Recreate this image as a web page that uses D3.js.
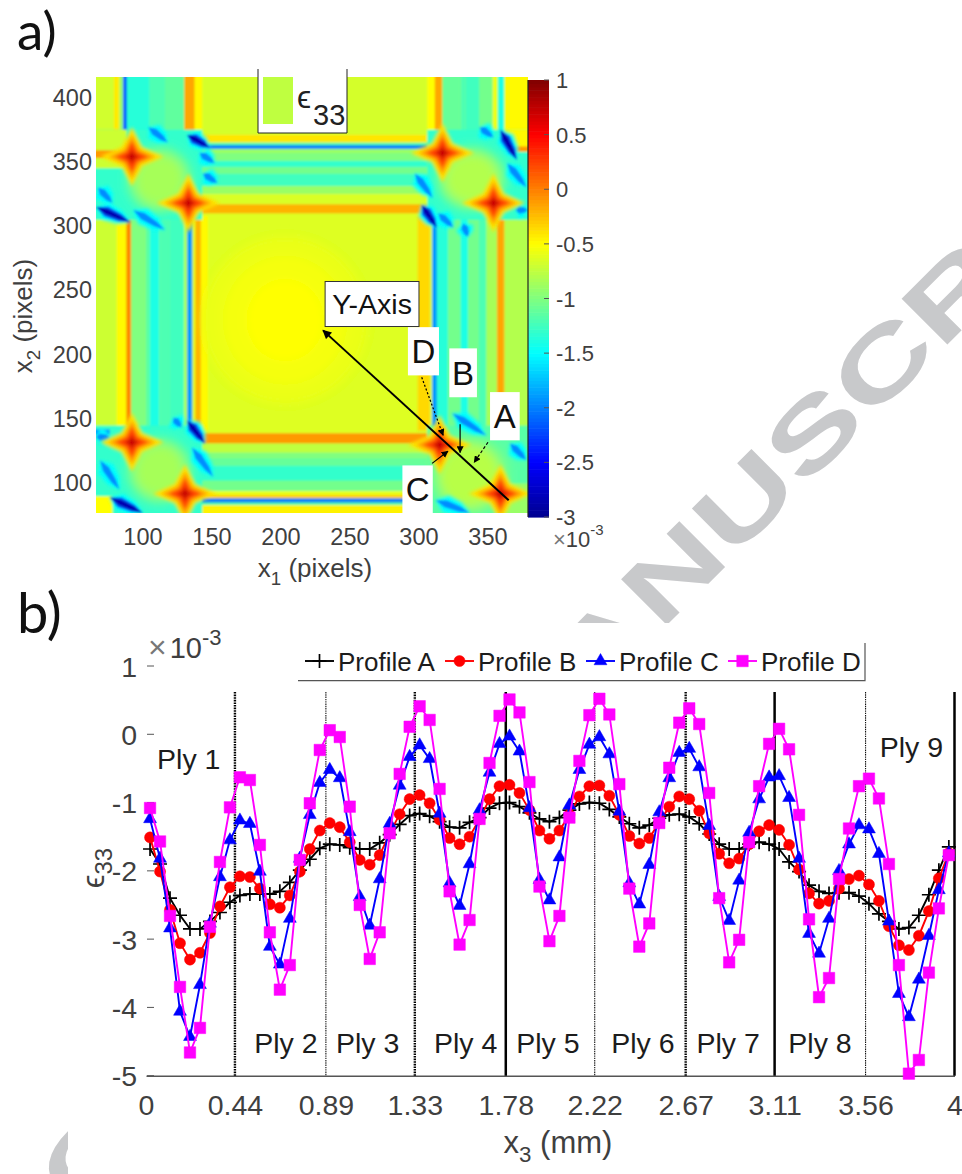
<!DOCTYPE html>
<html><head><meta charset="utf-8">
<script src="https://cdn.jsdelivr.net/npm/d3@7/dist/d3.min.js"></script>
<style>html,body{margin:0;padding:0;background:#fff}svg{display:block}text{font-family:"Liberation Sans",Arial,sans-serif}</style>
</head><body><svg id="c" width="962" height="1174"></svg>
<script>
// ---------- Panel b data (values x 1e-3) ----------
const profileA=[-1.68,-1.90,-2.40,-2.65,-2.85,-2.85,-2.74,-2.61,-2.46,-2.36,-2.34,-2.34,-2.34,-2.30,-2.17,-1.99,-1.83,-1.67,-1.61,-1.62,-1.66,-1.68,-1.68,-1.59,-1.47,-1.32,-1.19,-1.16,-1.20,-1.28,-1.36,-1.37,-1.29,-1.22,-1.08,-1.01,-1.00,-1.06,-1.15,-1.24,-1.28,-1.22,-1.11,-1.02,-1.00,-1.01,-1.10,-1.21,-1.31,-1.37,-1.33,-1.23,-1.18,-1.17,-1.21,-1.31,-1.46,-1.61,-1.68,-1.68,-1.61,-1.58,-1.61,-1.68,-1.87,-2.01,-2.21,-2.30,-2.33,-2.32,-2.32,-2.37,-2.48,-2.63,-2.74,-2.85,-2.83,-2.65,-2.35,-1.99,-1.65];
const profileB=[-1.51,-2.01,-2.57,-3.06,-3.30,-3.20,-2.91,-2.52,-2.24,-2.08,-2.09,-2.26,-2.49,-2.54,-2.36,-2.01,-1.68,-1.41,-1.30,-1.36,-1.58,-1.84,-1.91,-1.77,-1.45,-1.17,-0.95,-0.89,-1.01,-1.25,-1.52,-1.61,-1.50,-1.24,-0.95,-0.76,-0.74,-0.86,-1.11,-1.41,-1.53,-1.41,-1.18,-0.91,-0.76,-0.75,-0.90,-1.18,-1.49,-1.60,-1.52,-1.29,-1.06,-0.91,-0.95,-1.12,-1.45,-1.75,-1.89,-1.82,-1.61,-1.42,-1.33,-1.40,-1.62,-1.98,-2.33,-2.48,-2.44,-2.26,-2.12,-2.07,-2.20,-2.44,-2.81,-3.09,-3.16,-2.95,-2.59,-2.11,-1.74];
const profileC=[-1.24,-1.82,-2.84,-4.06,-4.43,-3.67,-2.77,-2.09,-1.55,-1.26,-1.31,-2.01,-3.11,-3.37,-2.70,-1.82,-1.18,-0.71,-0.52,-0.64,-1.43,-2.38,-2.80,-2.12,-1.31,-0.75,-0.33,-0.16,-0.36,-1.16,-2.18,-2.51,-1.90,-1.11,-0.56,-0.14,-0.03,-0.25,-1.08,-2.13,-2.43,-1.80,-1.04,-0.52,-0.15,-0.04,-0.29,-1.13,-2.18,-2.49,-1.91,-1.14,-0.64,-0.27,-0.21,-0.48,-1.34,-2.38,-2.73,-2.14,-1.44,-0.95,-0.63,-0.61,-0.93,-1.82,-2.92,-3.21,-2.70,-2.00,-1.61,-1.33,-1.39,-1.75,-2.74,-3.80,-4.14,-3.59,-2.95,-2.28,-1.74];
const profileD=[-1.08,-1.57,-2.66,-3.70,-4.66,-4.30,-2.82,-1.87,-1.07,-0.63,-0.67,-1.62,-2.90,-3.74,-3.38,-1.84,-1.01,-0.23,0.06,-0.04,-1.06,-2.50,-3.29,-2.90,-1.45,-0.58,0.11,0.41,0.21,-0.80,-2.30,-3.08,-2.72,-1.24,-0.42,0.27,0.51,0.32,-0.70,-2.23,-3.03,-2.66,-1.22,-0.39,0.28,0.52,0.29,-0.73,-2.26,-3.11,-2.77,-1.30,-0.49,0.17,0.38,0.15,-0.86,-2.40,-3.34,-3.01,-1.58,-0.76,-0.14,0.08,-0.22,-1.18,-2.71,-3.85,-3.57,-2.12,-1.38,-0.76,-0.65,-0.94,-1.90,-3.38,-4.97,-4.77,-3.49,-2.55,-1.77];
const sampleStart=0.02, sampleStep=0.0494;
const plyTicks=[0,0.44,0.89,1.33,1.78,2.22,2.67,3.11,3.56,4];
const plyTickLabels=["0","0.44","0.89","1.33","1.78","2.22","2.67","3.11","3.56","4"];
const boundaryValues=[0.44,0.89,1.33,1.78,2.22,2.67,3.11,3.56,4];
const boundaryStyles=["dense","thin","dense","solid","thin","dense","solid","thin","solid"];
const strainTicks=[1,0,-1,-2,-3,-4,-5];
const plyNames=["Ply 1","Ply 2","Ply 3","Ply 4","Ply 5","Ply 6","Ply 7","Ply 8","Ply 9"];
const plyX=[0.055,0.535,0.94,1.425,1.832,2.302,2.723,3.178,3.63];
const plyY=[-0.51,-4.67,-4.67,-4.67,-4.67,-4.67,-4.67,-4.67,-0.33];

// ---------- Panel a data: field features, in pixels of the image axes ----------
const x1Ticks=[100,150,200,250,300,350], x2Ticks=[400,350,300,250,200,150,100];
const cbTicks=[1,0.5,0,-0.5,-1,-1.5,-2,-2.5,-3];
// [x1 from, x1 to, x2 from, x2 to, strain]
const fieldBlocks=[[55,390,65,425,-0.67],[142,299,139,310,-0.63]];
const colsTopLeft=[[66,79,-0.68],[79,83,-0.42],[83,85.5,-0.9],[85.5,88.5,-2.1],[88.5,105,-1.35],[105,116,-1.2],[116,130,-1.12],[130,137.5,-0.15],[137.5,143,-0.48]];
const colsMidLeft=[[55,81,-0.7],[81,88,-0.48],[88,91.5,-0.02],[91.5,102,-1.0],[102,105,-1.15],[105,112,-1.4],[112,119,-1.2],[119,130,-1.25],[130,132,-0.8],[132,136,-1.9],[136,138,-0.6],[138,142,-0.2],[142,147,-0.48]];
const colsTopRight=[[306,311.5,-0.5],[311.5,317,-0.15],[317,330,-1.1],[330,333.5,-1.2],[333.5,344,-1.25],[344,353.5,-1.05],[353.5,357,-0.55],[357,362,-1.4],[362,390,-0.48]];
const colsMidRight=[[299,308,-0.35],[308,309.5,-0.7],[309.5,313,-1.9],[313,321,-1.35],[321,330,-1.05],[330,335.5,-1.4],[335.5,343,-1.05],[343,349,-1.2],[349,356.5,-0.85],[356.5,362,-0.15],[362,390,-0.8]];
const rowsTop=[[365,371,-0.4],[363,365,-1.2],[360,363,-2.0],[357,360,-0.9],[351,357,-1.0],[346,351,-1.3],[341,346,-1.05],[331,341,-1.25],[325,331,-0.9],[317,325,-0.65],[310,317,-0.2]];
const rowsBottom=[[131,139,-0.1],[124,131,-0.75],[120,124,-1.0],[114,120,-1.1],[102,114,-1.3],[94,102,-1.05],[91,94,-0.6],[88.5,91,-0.3],[85,88.5,-2.0],[83,85,-1.2],[65,83,-0.45]];
const crossBlocks=[[55,143,305,375,-1.3],[55,88,345,375,-0.7],[55,100,353,359,-0.1],
 [306,390,305,375,-1.3],[362,390,358,375,-0.48],[368,390,358,362,-0.1],
 [55,143,65,145,-1.3],[55,78,65,90,-0.5],[55,76,138,142,-1.9],
 [306,390,65,145,-1.15],[362,390,65,100,-0.9]];
// [x1, x2, radius x1, radius x2, strain]
const calmPatches=[[203,227,60,65,-0.58],[203,227,45,50,-0.54],[203,227,28,32,-0.5],
 [112,336,24,26,-1.05],[112,336,18,20,-0.85],[338,337,25,25,-1.0],[338,337,19,19,-0.8],
 [112,110,24,26,-1.05],[112,110,18,20,-0.85],[337,106,28,30,-1.0],[337,106,22,24,-0.78]];
// [x1 from, x2 from, x1 to, x2 to]
const streaksDeep=[[132,371,148.6,361],[359,375,371,351.5],[302,316.5,313,299],[66,315,91,303],[132,149,145,131],[76,89,100,77]];
const streaksMid=[[104,377,118,365],[141,357,152,349],[143.5,341,154,333.5],[93,312.5,116,297],[67.5,330,78,318],[344,377,354,369],[364,349,378,330],[297,341,310,322],[314,310,325,299],[332,302,335.5,291.5],[135.5,128,151,105],[122,151,128,143.5],[69,118,83,95],[66,136,76,136],[324,154.5,349,137],[312,87,337,77],[366,131,378,118],[370,312.5,379,312.5]];
const starCentres=[[92,354],[133,318],[317,357],[354,318],[92,132],[130.5,92],[315,130],[359,92]];
const starLevels=[[23,-0.38],[17,-0.1],[12,0.25],[5.5,0.72]]; // radius (x1 units), strain
// annotations, in the same axes
const labelBoxes=[["Y-Axis",232,300,257,222,28.5],["D",292,314.5,221.5,184,33],["B",322,342,205,167,33],["A",351.5,373,171,133.5,33],["C",288,310,114,77,33]];
const yAxisArrow=[365,87,230.5,219];
const pointers=[[302,182.5,317.5,137.4,"2,2"],[329.8,146,329.8,124,null],[350,132,340,116.4,"3,2"],[309.5,115.6,321,125,null]];

const svg=d3.select("#c");
const jet=d3.scaleLinear().domain([-3,-2.5,-1.5,-0.5,0.5,1]).range(["#00008f","#0000ff","#00ffff","#ffff00","#ff0000","#800000"]).clamp(true);
const ink="#3f3f3f";

// ---------- Watermark ----------
const wm=svg.append("text").text("ACCEPTED MANUSCRIPT").attr("font-size",94).attr("font-weight",700).attr("fill","#c8c9cb");
(function(){const n=wm.node(),i=11,s=n.getStartPositionOfChar(i).x,e=n.getEndPositionOfChar(i).x,mid=(s+e)/2,sx=1.49;
 wm.attr("transform",`translate(${673+23},${573+23}) rotate(-45) scale(${sx},1) translate(${-mid},0)`);})();
svg.append("rect").attr("x",0).attr("y",0).attr("width",577).attr("height",623).attr("fill","#fff");
svg.append("rect").attr("x",68).attr("y",623).attr("width",894).attr("height",551).attr("fill","#fff");

// ---------- Panel labels ----------
svg.append("text").attr("x",17).attr("y",50).text("a)").attr("font-size",53).style("font-family","Lato").attr("fill","#111");
svg.append("text").attr("x",17).attr("y",633).text("b)").attr("font-size",56).style("font-family","Lato").attr("fill","#111");

// ---------- Panel a ----------
const x1=d3.scaleLinear().domain([66,379]).range([96,528]);
const x2=d3.scaleLinear().domain([77,416]).range([513,77]);
const defs=svg.append("defs");
defs.append("filter").attr("id","soft").attr("x","-5%").attr("y","-5%").attr("width","110%").attr("height","110%").append("feGaussianBlur").attr("stdDeviation",1.15);
defs.append("filter").attr("id","softer").attr("x","-30%").attr("y","-30%").attr("width","160%").attr("height","160%").append("feGaussianBlur").attr("stdDeviation",5);
defs.append("filter").attr("id","starSoft").attr("x","-20%").attr("y","-20%").attr("width","140%").attr("height","140%").append("feGaussianBlur").attr("stdDeviation",1.6);
defs.append("clipPath").attr("id","heatClip").append("rect").attr("x",96).attr("y",77).attr("width",432).attr("height",436);
const heat=svg.append("g").attr("clip-path","url(#heatClip)").append("g").attr("filter","url(#soft)");
function blocks(list){heat.append("g").selectAll("rect").data(list).join("rect")
 .attr("x",d=>x1(d[0])).attr("width",d=>x1(d[1])-x1(d[0])).attr("y",d=>x2(d[3])).attr("height",d=>x2(d[2])-x2(d[3])).attr("fill",d=>jet(d[4]));}
blocks(fieldBlocks);
blocks(colsTopLeft.concat(colsTopRight).map(c=>[c[0],c[1],372,425,c[2]]));
blocks(colsMidLeft.concat(colsMidRight).map(c=>[c[0],c[1],141,308,c[2]]));
blocks(rowsTop.map(r=>[138,306,r[0],r[1],r[2]]));
blocks(rowsBottom.map(r=>[138,306,r[0],r[1],r[2]]));
blocks(crossBlocks);
heat.append("g").attr("filter","url(#softer)").selectAll("ellipse").data(calmPatches.slice(0,3)).join("ellipse")
 .attr("cx",d=>x1(d[0])).attr("cy",d=>x2(d[1])).attr("rx",d=>x1(d[0]+d[2])-x1(d[0])).attr("ry",d=>x2(d[1])-x2(d[1]+d[3])).attr("fill",d=>jet(d[4]));
heat.append("g").attr("filter","url(#softer)").selectAll("ellipse").data(calmPatches.slice(3)).join("ellipse")
 .attr("cx",d=>x1(d[0])).attr("cy",d=>x2(d[1])).attr("rx",d=>x1(d[0]+d[2])-x1(d[0])).attr("ry",d=>x2(d[1])-x2(d[1]+d[3])).attr("fill",d=>jet(d[4]));
const lensLine=d3.line().curve(d3.curveLinearClosed);
function lens(d,w){const ax=x1(d[0]),ay=x2(d[1]),bx=x1(d[2]),by=x2(d[3]),dx=bx-ax,dy=by-ay,L=Math.hypot(dx,dy)||1,nx=-dy/L*w,ny=dx/L*w;
 const p=t=>[ax+dx*t,ay+dy*t];const q1=p(0.3),q2=p(0.7);
 return lensLine([[ax,ay],[q1[0]+nx,q1[1]+ny],[q2[0]+nx*0.75,q2[1]+ny*0.75],[bx,by],[q2[0]-nx*0.75,q2[1]-ny*0.75],[q1[0]-nx,q1[1]-ny]]);}
function streaks(list,w,v){heat.append("g").selectAll("path").data(list).join("path").attr("d",d=>lens(d,w)).attr("fill",jet(v));}
const haloG=heat.append("g").attr("filter","url(#starSoft)");
haloG.append("g").selectAll("path").data(streaksMid.concat(streaksDeep)).join("path").attr("d",d=>lens(d,9)).attr("fill",jet(-1.5));
streaks(streaksMid,3.6,-1.95);
streaks(streaksDeep,5.5,-2.1);
streaks(streaksDeep,3,-2.85);
const starLine=d3.line().curve(d3.curveLinearClosed);
function starPath(c,r){const pts=[];const n=8;for(let k=0;k<n;k++){const a=k*Math.PI/4,f=k%2?0.46:1;pts.push([x1(c[0]+r*f*Math.cos(a)),x2(c[1]+r*f*Math.sin(a))]);}return starLine(pts);}
const starG=heat.append("g").attr("filter","url(#starSoft)");
starLevels.forEach(l=>{starG.append("g").selectAll("path").data(starCentres).join("path").attr("d",d=>starPath(d,l[0])).attr("fill",jet(l[1]));});

// colour bar
const cbY=d3.scaleLinear().domain([-3,1]).range([517,80]);
const cbSteps=d3.range(-3,1,0.03125);
svg.append("g").selectAll("rect").data(cbSteps).join("rect").attr("x",528).attr("width",21)
 .attr("y",d=>cbY(d+0.03125)).attr("height",d=>cbY(d)-cbY(d+0.03125)+0.6).attr("fill",d=>jet(d+0.0156));
svg.append("line").attr("x1",528).attr("x2",528).attr("y1",80).attr("y2",517).attr("stroke","#222").attr("stroke-width",1.2);
const cbG=svg.append("g").selectAll("g").data(cbTicks).join("g");
cbG.append("line").attr("x1",544).attr("x2",549).attr("y1",d=>cbY(d)).attr("y2",d=>cbY(d)).attr("stroke","#555");
cbG.append("text").attr("x",556).attr("y",d=>cbY(d)+8).text(d=>d).attr("font-size",22).attr("fill",ink);
const cbExp=svg.append("text").attr("x",553).attr("y",547).attr("font-size",22).attr("fill",ink);
cbExp.append("tspan").text("×").attr("fill","#777");cbExp.append("tspan").text("10");
cbExp.append("tspan").text("-3").attr("font-size",15).attr("dy",-12);

// axis texts
svg.append("g").selectAll("text").data(x1Ticks).join("text").attr("x",d=>x1(d)).attr("y",545).attr("text-anchor","middle").text(d=>d).attr("font-size",23.5).attr("fill",ink);
svg.append("g").selectAll("text").data(x2Ticks).join("text").attr("x",92).attr("y",d=>x2(d)+8).attr("text-anchor","end").text(d=>d).attr("font-size",23.5).attr("fill",ink);
function subLabel(sel,a,b,c,size){sel.attr("font-size",size).attr("fill",ink);sel.append("tspan").text(a);
 sel.append("tspan").text(b).attr("font-size",size*0.72).attr("dy",size*0.3);sel.append("tspan").text(c).attr("dy",-size*0.3);}
subLabel(svg.append("text").attr("x",315).attr("y",577).attr("text-anchor","middle"),"x","1"," (pixels)",26);
subLabel(svg.append("text").attr("transform","translate(32,316) rotate(-90)").attr("text-anchor","middle"),"x","2"," (pixels)",26);

// epsilon legend box
const epsBox=svg.append("g");
epsBox.append("rect").attr("x",258).attr("y",69).attr("width",89).attr("height",64).attr("fill","#fff");
epsBox.append("path").attr("d","M258,69V133H347V69").attr("fill","none").attr("stroke","#222").attr("stroke-width",1);
epsBox.append("rect").attr("x",263).attr("y",77).attr("width",30).attr("height",47).attr("fill",jet(-0.75));
epsBox.append("text").attr("x",297).attr("y",108).text("ϵ").attr("font-size",32).attr("fill","#222");
epsBox.append("text").attr("x",313).attr("y",125).text("33").attr("font-size",29).attr("fill","#222");

// annotations
const headDef=defs.append("marker").attr("id","tip").attr("viewBox","0 0 10 10").attr("refX",9).attr("refY",5).attr("markerWidth",7).attr("markerHeight",7).attr("markerUnits","userSpaceOnUse").attr("orient","auto");
headDef.append("path").attr("d","M0,0L10,5L0,10Z").attr("fill","#000");
const headBig=defs.append("marker").attr("id","tipBig").attr("viewBox","0 0 10 10").attr("refX",9).attr("refY",5).attr("markerWidth",10).attr("markerHeight",9).attr("markerUnits","userSpaceOnUse").attr("orient","auto");
headBig.append("path").attr("d","M0,0L10,5L0,10Z").attr("fill","#000");
svg.append("line").attr("x1",x1(yAxisArrow[0])).attr("y1",x2(yAxisArrow[1])).attr("x2",x1(yAxisArrow[2])).attr("y2",x2(yAxisArrow[3])).attr("stroke","#000").attr("stroke-width",2).attr("marker-end","url(#tipBig)");
svg.append("g").selectAll("line").data(pointers).join("line").attr("x1",d=>x1(d[0])).attr("y1",d=>x2(d[1])).attr("x2",d=>x1(d[2])).attr("y2",d=>x2(d[3]))
 .attr("stroke","#000").attr("stroke-width",1.2).attr("stroke-dasharray",d=>d[4]).attr("marker-end","url(#tip)");
const boxG=svg.append("g").selectAll("g").data(labelBoxes).join("g");
boxG.append("rect").attr("x",d=>x1(d[1])).attr("y",d=>x2(d[3])).attr("width",d=>x1(d[2])-x1(d[1])).attr("height",d=>x2(d[4])-x2(d[3])).attr("fill","#fff").attr("stroke",d=>d[0]==="Y-Axis"?"#333":"none");
boxG.append("text").attr("x",d=>(x1(d[1])+x1(d[2]))/2).attr("y",d=>(x2(d[3])+x2(d[4]))/2+(d[0]==="Y-Axis"?10:12)).attr("text-anchor","middle").text(d=>d[0]).attr("font-size",d=>d[5]).attr("fill","#111");

// ---------- Panel b ----------
const x=d3.scaleLinear().domain([0,4]).range([146,954.5]);
const y=d3.scaleLinear().domain([-5,1]).range([1075.7,666]);
const bottomAxis=d3.axisBottom(x).tickValues(plyTicks).tickFormat((d,i)=>plyTickLabels[i]).tickSize(0).tickPadding(0);
const gx=svg.append("g").attr("transform","translate(0,1075.7)").call(bottomAxis);
gx.select(".domain").attr("stroke","#555").attr("stroke-width",1.4);
gx.selectAll("text").attr("font-size",28.5).attr("fill",ink).attr("dy",0).attr("y",39.5).style("font-family",'"Liberation Sans"');
const leftAxis=d3.axisLeft(y).tickValues(strainTicks).tickFormat(d=>d).tickSize(0);
const gy=svg.append("g").attr("transform","translate(137,0)").call(leftAxis);
gy.select(".domain").remove();
gy.selectAll("text").attr("font-size",28.5).attr("fill",ink).attr("x",0).attr("dy",10).style("font-family",'"Liberation Sans"');
svg.append("g").selectAll("line").data(strainTicks).join("line").attr("x1",147).attr("x2",154).attr("y1",d=>y(d)).attr("y2",d=>y(d)).attr("stroke","#555").attr("stroke-width",1);

// boundaries
const bStyle={dense:{w:2.4,dash:"1.6,1",c:"#000"},thin:{w:1.1,dash:"1.4,0.9",c:"#111"},solid:{w:2.5,dash:null,c:"#000"}};
svg.append("g").selectAll("line").data(boundaryValues).join("line").attr("x1",d=>x(d)).attr("x2",d=>x(d)).attr("y1",692).attr("y2",1075.7)
 .attr("stroke",(d,i)=>bStyle[boundaryStyles[i]].c).attr("stroke-width",(d,i)=>bStyle[boundaryStyles[i]].w).attr("stroke-dasharray",(d,i)=>bStyle[boundaryStyles[i]].dash);

// series
const markPlus="M-7,0H7M0,-7V7";
const series=[
 {name:"Profile A",v:profileA,c:"#000",mark:markPlus,plus:true},
 {name:"Profile B",v:profileB,c:"#ff0000",mark:d3.symbol(d3.symbolCircle,96)()},
 {name:"Profile C",v:profileC,c:"#0000ff",mark:d3.symbol(d3.symbolTriangle,72)()},
 {name:"Profile D",v:profileD,c:"#ff00ff",mark:d3.symbol(d3.symbolSquare,132)()}];
const xAt=i=>x(sampleStart+i*sampleStep);
const ln=d3.line().x((d,i)=>xAt(i)).y(d=>y(d));
function mark(sel,s){sel.attr("d",s.mark).attr("fill",s.plus?"none":s.c).attr("stroke",s.c).attr("stroke-width",s.plus?1.7:0.5);}
series.forEach(s=>{
 const g=svg.append("g");
 g.append("path").attr("d",ln(s.v)).attr("fill","none").attr("stroke",s.c).attr("stroke-width",1.9);
 g.selectAll("path.m").data(s.v).join("path").attr("class","m").attr("transform",(d,i)=>`translate(${xAt(i)},${y(d)})`).call(mark,s);
});

// ply names
svg.append("g").selectAll("text").data(plyNames).join("text").attr("x",(d,i)=>x(plyX[i])).attr("y",(d,i)=>y(plyY[i])).text(d=>d).attr("font-size",28.5).attr("fill","#1c1c1c");

// legend
const legX=[305,445,586,728];
svg.append("path").attr("d","M298,680.7H865V643").attr("fill","none").attr("stroke","#555").attr("stroke-width",1.2);
series.forEach((s,i)=>{const g=svg.append("g").attr("transform",`translate(${legX[i]},661)`);
 g.append("line").attr("x1",0).attr("x2",29).attr("stroke",s.c).attr("stroke-width",1.9);
 g.append("path").attr("transform","translate(14.5,0)").call(mark,s);
 g.append("text").attr("x",33).attr("y",9.5).text(s.name).attr("font-size",26).attr("fill","#1c1c1c");});

// exponent and axis titles
const bExp=svg.append("text").attr("x",148).attr("y",658).attr("font-size",29).attr("fill",ink);
bExp.append("tspan").text("×").attr("fill","#777").attr("font-size",32);bExp.append("tspan").text("10").attr("dx",3);
bExp.append("tspan").text("-3").attr("font-size",22).attr("dy",-13);
subLabel(svg.append("text").attr("x",558).attr("y",1153).attr("text-anchor","middle"),"x","3"," (mm)",31);
const epsY=svg.append("text").attr("transform","translate(104,868) rotate(-90)").attr("text-anchor","middle").attr("font-size",31).attr("fill",ink);
epsY.append("tspan").text("ϵ");epsY.append("tspan").text("33").attr("font-size",24).attr("dy",8);
</script></body></html>
